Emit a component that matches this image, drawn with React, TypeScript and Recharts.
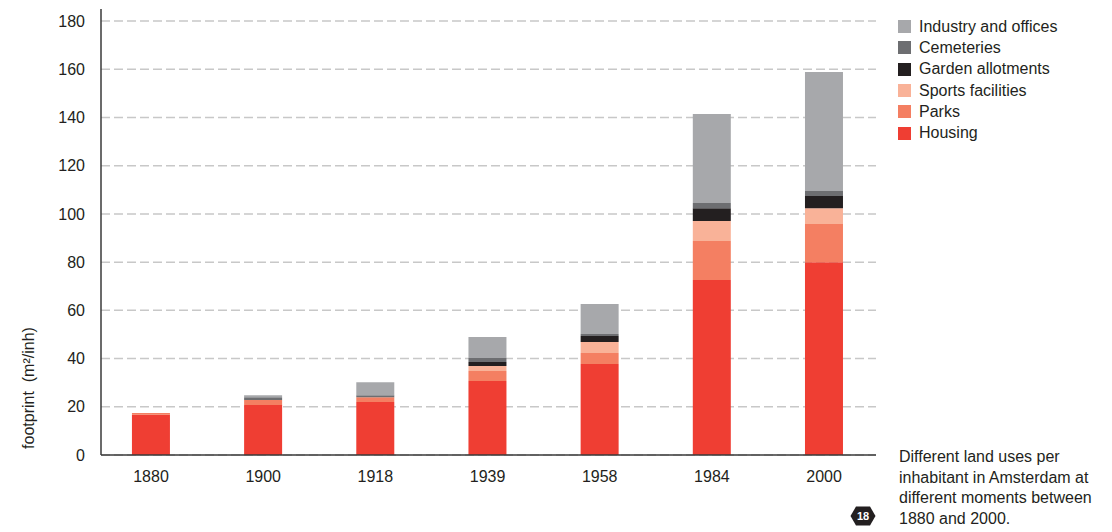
import { Bar, BarChart, CartesianGrid, Legend, XAxis, YAxis } from "recharts";

const years = ["1880", "1900", "1918", "1939", "1958", "1984", "2000"];
const housing = [16.7, 20.7, 22.0, 30.7, 37.7, 72.6, 80.0];
const parks = [0.7, 2.1, 2.0, 4.1, 4.6, 16.2, 15.8];
const sports = [0, 0, 0, 2.1, 4.6, 8.3, 6.6];
const gardens = [0, 0, 0, 1.7, 2.5, 5.3, 5.0];
const cemeteries = [0, 1.2, 0.8, 1.6, 0.8, 2.1, 2.1];
const industry = [0, 0.8, 5.4, 8.7, 12.4, 36.9, 49.4];
const yTicks = [0, 20, 40, 60, 80, 100, 120, 140, 160, 180];
const yMax = 185;

// bottom to top stacking order
const series = [
  { key: "housing", name: "Housing", color: "#ef3e33", values: housing },
  { key: "parks", name: "Parks", color: "#f47f62", values: parks },
  { key: "sports", name: "Sports facilities", color: "#f9b298", values: sports },
  { key: "gardens", name: "Garden allotments", color: "#231f20", values: gardens },
  { key: "cemeteries", name: "Cemeteries", color: "#6d6e71", values: cemeteries },
  { key: "industry", name: "Industry and offices", color: "#a7a8ab", values: industry },
];

const data = years.map((year, i) => {
  const row: Record<string, number | string> = { idx: i, year };
  series.forEach((s) => (row[s.key] = s.values[i]));
  return row;
});

const font = "'Liberation Sans', Arial, sans-serif";
const fontSize = 16;
const textColor = "#231f20";
const axisColor = "#3a3a3a";

const renderLegend = () => (
  <div style={{ fontFamily: font, fontSize, color: textColor }}>
    {[...series].reverse().map((s) => (
      <div key={s.key} style={{ display: "flex", alignItems: "center", height: 21.3 }}>
        <span style={{ width: 13, height: 13, background: s.color, marginRight: 8, display: "inline-block" }} />
        <span>{s.name}</span>
      </div>
    ))}
  </div>
);

const YLabel = () => (
  <text
    x={0}
    y={0}
    transform="translate(34, 388) rotate(-90)"
    textAnchor="middle"
    fill={textColor}
    fontSize={fontSize}
    fontFamily={font}
    style={{ whiteSpace: "pre" }}
  >
    footprint  (m²/inh)
  </text>
);

// grid only at the labelled ticks (no line at the top of the axis)
const gridRows = (props: any) => {
  const off = props.offset || { top: 9, height: 446 };
  return yTicks.map((t) => off.top + off.height * (1 - t / yMax));
};

export default function App() {
  return (
    <div style={{ position: "absolute", left: 0, top: 0, width: 1112, height: 532, background: "#fff" }}>
      <BarChart
        width={1112}
        height={532}
        data={data}
        margin={{ top: 9, right: 236, bottom: 47, left: 41 }}
        barSize={38}
      >
        <CartesianGrid
          vertical={false}
          stroke="#c8c8c8"
          strokeDasharray="9 4"
          strokeWidth={1.5}
          horizontalCoordinatesGenerator={gridRows}
        />
        <XAxis
          type="number"
          dataKey="idx"
          domain={[-0.446, 6.463]}
          ticks={[0, 1, 2, 3, 4, 5, 6]}
          tickFormatter={(i: number) => years[i]}
          allowDataOverflow
          height={30}
          tickLine={false}
          tickSize={0}
          tickMargin={16}
          axisLine={{ stroke: axisColor, strokeWidth: 1.5 }}
          tick={{ fill: textColor, fontSize, fontFamily: font }}
        />
        <YAxis
          domain={[0, yMax]}
          ticks={yTicks}
          width={60}
          tickLine={false}
          tickSize={0}
          tickMargin={16}
          axisLine={{ stroke: axisColor, strokeWidth: 1.5 }}
          tick={{ fill: textColor, fontSize, fontFamily: font }}
          label={{ content: () => <YLabel /> }}
        />
        <Legend
          layout="vertical"
          align="center"
          verticalAlign="middle"
          content={renderLegend}
          wrapperStyle={{ left: 898, top: 16, width: 210 }}
        />
        {series.map((s) => (
          <Bar key={s.key} dataKey={s.key} name={s.name} stackId="a" fill={s.color} isAnimationActive={false} />
        ))}
      </BarChart>
      <div
        style={{
          position: "absolute",
          left: 899,
          top: 447,
          fontFamily: font,
          fontSize,
          lineHeight: "20.7px",
          color: textColor,
          whiteSpace: "pre-line",
        }}
      >
        {"Different land uses per\ninhabitant in Amsterdam at\ndifferent moments between\n1880 and 2000."}
      </div>
      <svg style={{ position: "absolute", left: 850, top: 506 }} width={26} height={20}>
        <polygon points="0.5,10 6,0.5 20,0.5 25.5,10 20,19.5 6,19.5" fill="#231f20" />
        <text x={13} y={14} textAnchor="middle" fill="#fff" fontSize={11} fontWeight="bold" fontFamily={font}>
          18
        </text>
      </svg>
    </div>
  );
}
